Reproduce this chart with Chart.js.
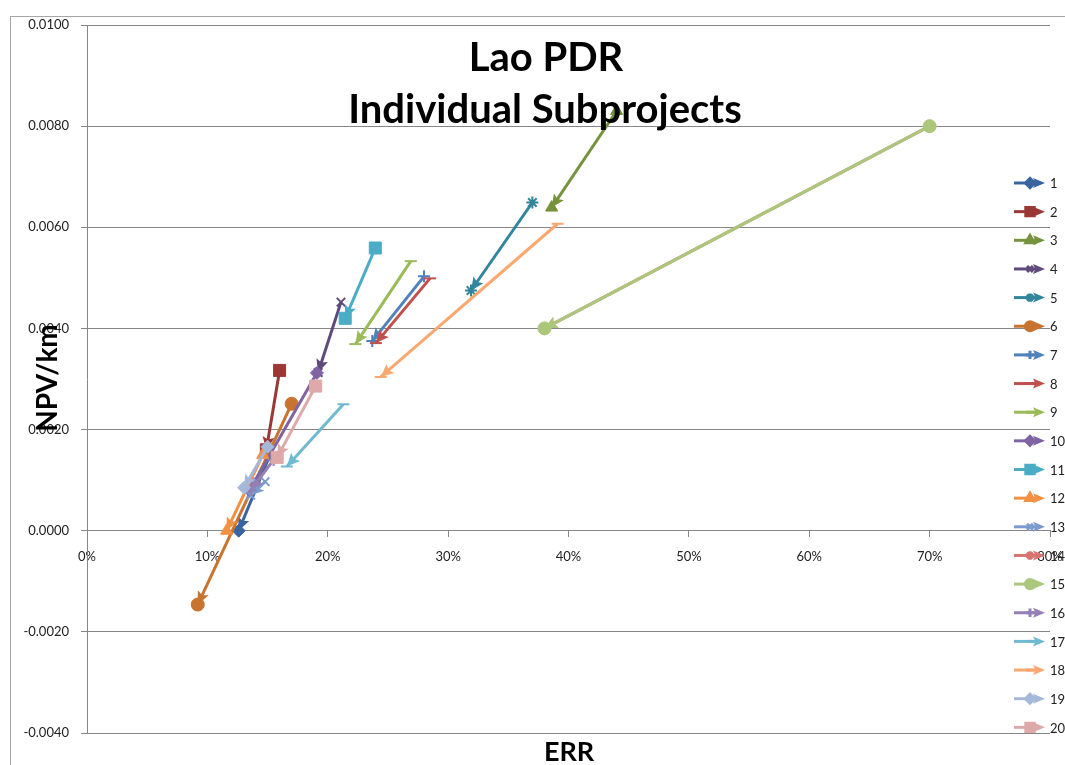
<!DOCTYPE html>
<html>
<head>
<meta charset="utf-8">
<title>Lao PDR Individual Subprojects</title>
<script src="https://cdn.jsdelivr.net/npm/chart.js@4/dist/chart.umd.min.js"></script>
<style>
  html, body { margin: 0; padding: 0; background: #fff; }
  canvas { display: block; }
</style>
</head>
<body>
<canvas id="errChart" width="1065" height="765"></canvas>
<script>
// Subproject labels
const subprojects = ['1', '2', '3', '4', '5', '6', '7', '8', '9', '10',
  '11', '12', '13', '14', '15', '16', '17', '18', '19', '20'];

// Base case (start of each arrow): ERR in %, NPV per km
const errBase = [15.2, 16.0, 44.0, 21.1, 37.0, 17.0, 28.0, 28.5, 26.9, 19.1,
  23.95, 14.6, 14.8, 70.0, 70.0, 15.5, 21.3, 39.1, 15.0, 19.0];
const npvBase = [0.00150, 0.00317, 0.00830, 0.00452, 0.00649, 0.00251, 0.00503, 0.00499, 0.00533, 0.00312,
  0.00559, 0.00150, 0.00097, 0.00800, 0.00800, 0.00140, 0.00250, 0.00607, 0.00166, 0.00286];

// Sensitivity case (end of each arrow)
const errSens = [12.6, 14.9, 38.6, 19.2, 31.9, 9.2, 23.7, 24.0, 22.3, 13.5,
  21.45, 11.6, 13.6, 38.0, 38.0, 13.6, 16.6, 24.4, 13.05, 15.8];
const npvSens = [0.00000, 0.00160, 0.00639, 0.00313, 0.00475, -0.00146, 0.00375, 0.00371, 0.00369, 0.00080,
  0.00420, 0.00000, 0.00070, 0.00400, 0.00400, 0.00080, 0.00127, 0.00304, 0.00085, 0.00145];

// Axis ticks
const errTicks = [0, 10, 20, 30, 40, 50, 60, 70, 80];
const npvTicks = [-0.004, -0.002, 0, 0.002, 0.004, 0.006, 0.008, 0.010];

const colors = ['#3A64A0', '#9A3836', '#76923C', '#5F4A7B', '#31859C', '#C8732F', '#4F81BD', '#C0504D', '#9BBB59', '#8064A2',
  '#4BACC6', '#F29044', '#7A9BCF', '#D87370', '#ABC77C', '#9580B5', '#6FBAD0', '#F9A870', '#A6B8DA', '#DDAAA9'];
const markers = ['rectRot', 'rect', 'triangle', 'crossRot', 'star', 'circle', 'cross', 'line', 'line', 'rectRot',
  'rect', 'triangle', 'crossRot', 'star', 'circle', 'cross', 'line', 'line', 'rectRot', 'rect'];

const markerSize = { rectRot: 6.5, rect: 8.5, triangle: 7, crossRot: 6, star: 6, circle: 6.5, cross: 6, line: 6 };
const openMarker = { crossRot: true, star: true, cross: true, line: true };

const datasets = subprojects.map((name, i) => ({
  label: name,
  data: [{ x: errBase[i], y: npvBase[i] }, { x: errSens[i], y: npvSens[i] }],
  showLine: true,
  borderColor: colors[i],
  backgroundColor: colors[i],
  borderWidth: 3,
  pointStyle: markers[i],
  pointRadius: markerSize[markers[i]],
  pointBorderWidth: openMarker[markers[i]] ? 2 : 1,
  pointBorderColor: colors[i],
  pointBackgroundColor: colors[i],
  order: subprojects.length - i
}));

function drawArrow(ctx, x0, y0, x1, y1, color, len, half) {
  const a = Math.atan2(y1 - y0, x1 - x0);
  ctx.save();
  ctx.translate(x1, y1);
  ctx.rotate(a);
  ctx.beginPath();
  ctx.moveTo(0, 0);
  ctx.lineTo(-len, -half);
  ctx.lineTo(-len * 0.8, 0);
  ctx.lineTo(-len, half);
  ctx.closePath();
  ctx.fillStyle = color;
  ctx.fill();
  ctx.restore();
}

const decor = {
  id: 'decor',
  beforeDraw(chart) {
    const ctx = chart.ctx;
    ctx.save();
    ctx.fillStyle = '#fff';
    ctx.fillRect(0, 0, chart.width, chart.height);
    ctx.strokeStyle = '#a6a6a6';
    ctx.lineWidth = 1;
    ctx.strokeRect(10.5, 16.5, chart.width, chart.height);
    ctx.restore();
  },
  afterDatasetDraw(chart, args) {
    const pts = args.meta.data;
    if (pts.length < 2) return;
    const p0 = pts[pts.length - 2], p1 = pts[pts.length - 1];
    drawArrow(chart.ctx, p0.x, p0.y, p1.x, p1.y, colors[args.index], 13, 6);
  },
  afterDraw(chart) {
    const ctx = chart.ctx;
    ctx.save();
    ctx.fillStyle = '#000';
    ctx.textAlign = 'center';
    ctx.textBaseline = 'alphabetic';
    ctx.font = 'bold 40px Lato';
    ctx.fillText('Lao PDR', 546, 71);
    ctx.fillText('Individual Subprojects', 545, 123);

    ctx.font = 'bold 27px Lato';
    ctx.fillText('ERR', 569, 761);
    ctx.save();
    ctx.translate(57, 378);
    ctx.rotate(-Math.PI / 2);
    ctx.font = 'bold 28px Lato';
    ctx.fillText('NPV/km', 0, 0);
    ctx.restore();

    // legend: line with marker and arrow, label to the right
    ctx.font = '13px Lato';
    ctx.textAlign = 'left';
    ctx.textBaseline = 'middle';
    chart.data.datasets.forEach((ds, i) => {
      const y = 183 + i * 28.65;
      ctx.strokeStyle = colors[i];
      ctx.lineWidth = 3;
      ctx.beginPath();
      ctx.moveTo(1014, y);
      ctx.lineTo(1036, y);
      ctx.stroke();
      drawArrow(ctx, 1014, y, 1045, y, colors[i], 12, 5);
      ctx.fillStyle = colors[i];
      ctx.strokeStyle = colors[i];
      Chart.helpers.drawPoint(ctx, {
        pointStyle: markers[i],
        radius: markerSize[markers[i]] * 0.7,
        borderWidth: openMarker[markers[i]] ? 1.5 : 1
      }, 1030, y);
      ctx.fillStyle = '#222';
      ctx.fillText(ds.label, 1050, y + 1);
    });
    ctx.restore();
  }
};

new Chart(document.getElementById('errChart'), {
  type: 'scatter',
  data: { datasets },
  options: {
    responsive: false,
    animation: false,
    events: [],
    layout: { padding: { left: 10, top: 25, right: 15, bottom: 32 } },
    plugins: {
      legend: { display: false },
      title: { display: false },
      tooltip: { enabled: false }
    },
    scales: {
      x: {
        type: 'linear',
        position: { y: 0 },
        min: errTicks[0],
        max: errTicks[errTicks.length - 1],
        afterBuildTicks(scale) { scale.ticks = errTicks.map(v => ({ value: v })); },
        afterFit(scale) {
          // axis sits at y = 0 inside the plot, so it takes no layout room
          scale.height = 0;
          scale.paddingLeft = 0;
          scale.paddingRight = 0;
        },
        ticks: {
          callback: v => v + '%',
          font: { family: 'Lato', size: 13 },
          color: '#222',
          padding: 12,
          maxRotation: 0,
          autoSkip: false
        },
        grid: { drawOnChartArea: false, tickLength: 6, color: '#868686' },
        border: { color: '#868686' }
      },
      y: {
        type: 'linear',
        min: npvTicks[0],
        max: npvTicks[npvTicks.length - 1],
        afterBuildTicks(scale) { scale.ticks = npvTicks.map(v => ({ value: v })); },
        afterFit(scale) {
          scale.width = 77;
          scale.paddingTop = 0;
          scale.paddingBottom = 0;
        },
        ticks: {
          callback: v => v.toFixed(4),
          font: { family: 'Lato', size: 13 },
          color: '#222',
          padding: 12
        },
        grid: { color: '#868686', tickLength: 6 },
        border: { color: '#868686' }
      }
    }
  },
  plugins: [decor]
});
</script>
</body>
</html>
